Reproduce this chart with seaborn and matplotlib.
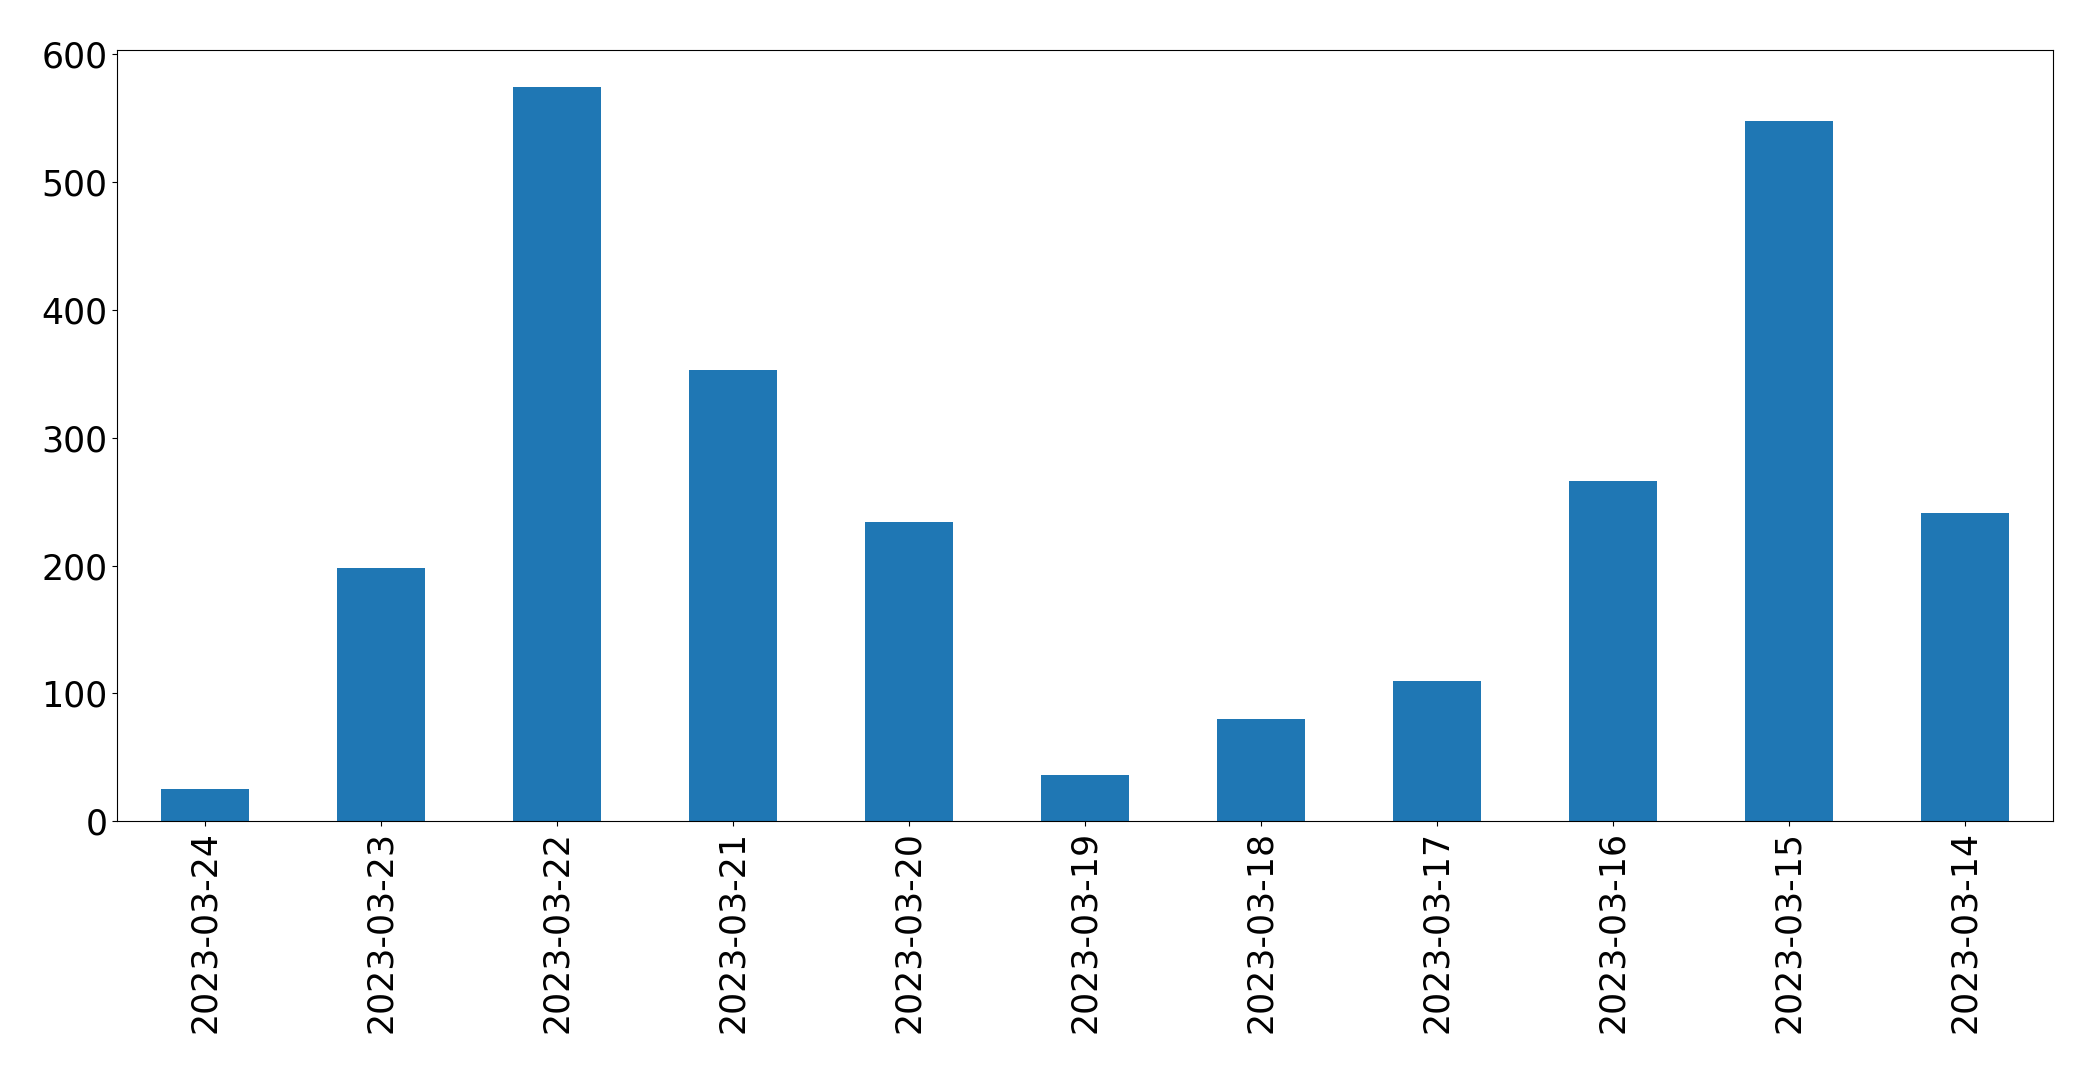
import matplotlib
matplotlib.use("Agg")
import matplotlib.pyplot as plt
import seaborn as sns
import pandas as pd

dates = ["2023-03-24","2023-03-23","2023-03-22","2023-03-21","2023-03-20","2023-03-19",
         "2023-03-18","2023-03-17","2023-03-16","2023-03-15","2023-03-14"]
counts = [25, 198, 574, 353, 234, 36, 80, 110, 266, 548, 241]

df = pd.DataFrame({"date": dates, "count": counts})
fig, ax = plt.subplots(figsize=(20.93, 10.72), dpi=100)
sns.barplot(data=df, x="date", y="count", color="#1f77b4", saturation=1, width=0.5, ax=ax)
ax.set_xlim(-0.5, len(dates) - 0.5)
ax.set_ylim(0, 603)
ax.set_xlabel("")
ax.set_ylabel("")
ax.tick_params(axis="both", labelsize=25)
plt.setp(ax.get_xticklabels(), rotation=90)
fig.subplots_adjust(left=0.056, right=0.981, top=0.953, bottom=0.234)
fig.savefig("out.png")
